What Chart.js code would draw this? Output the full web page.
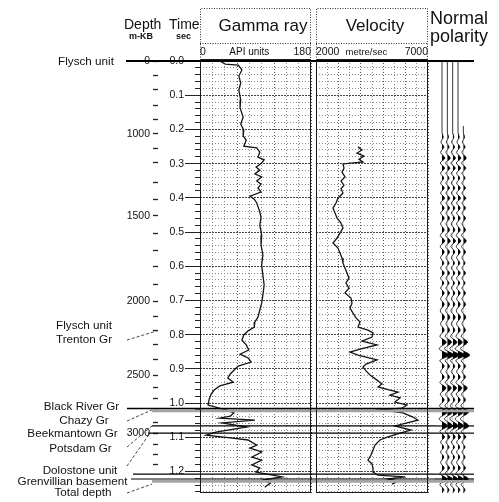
<!DOCTYPE html>
<html><head><meta charset="utf-8">
<script src="https://cdn.jsdelivr.net/npm/chart.js@4.4.1/dist/chart.umd.min.js"></script>
<style>
html,body{margin:0;padding:0;background:#fff;overflow:hidden}
#wrap{position:relative;width:499px;height:502px;overflow:hidden;font-family:"Liberation Sans",Arial,Helvetica,sans-serif;color:#111}
#wrap canvas{position:absolute;top:0}
.t{position:absolute;white-space:nowrap;line-height:1}
</style></head>
<body><div id="wrap">
<canvas id="cg" width="312" height="502" style="left:0px"></canvas>
<canvas id="cv" width="124" height="502" style="left:311px"></canvas>
<canvas id="cs" width="502" height="64" style="left:499px;transform-origin:0 0;transform:rotate(90deg)"></canvas>
</div>
<script>
// ---------------- data ----------------
const timeTickValues = [0, 0.1, 0.2, 0.3, 0.4, 0.5, 0.6, 0.7, 0.8, 0.9, 1.0, 1.1, 1.2];
const timeTickLabels = ['0.0','0.1','0.2','0.3','0.4','0.5','0.6','0.7','0.8','0.9','1.0','1.1','1.2'];

const depthValues = [0,200,400,600,800,1000,1100,1200,1300,1400,1500,1600,1700,1800,1900,2000,2100,2200,2300,2400,2500,2600,2700,2800,2900,3000,3100,3200,3300];
const depthTimes  = [0.000,0.041,0.082,0.129,0.170,0.213,0.257,0.298,0.354,0.406,0.453,0.503,0.553,0.602,0.652,0.702,0.746,0.789,0.830,0.874,0.918,0.956,0.988,1.023,1.056,1.088,1.120,1.149,1.181];
const depthLabelled = [0, 1000, 1500, 2000, 2500, 3000];

const gammaAxisTicks  = [0, 80, 180];
const gammaAxisLabels = ['0', 'API units', '180'];
const velAxisTicks  = [2000, 4250, 7000];
const velAxisLabels = ['2000', 'metre/sec', '7000'];

// gamma ray log: [time s, API]
const gammaRay = [[0.000,32],[0.009,41],[0.012,62],[0.026,68],[0.044,63],[0.064,66],[0.085,63],[0.114,66],[0.137,65],[0.164,70],[0.184,66],[0.202,71],[0.219,70],[0.231,75],[0.249,71],[0.254,92],[0.266,97],[0.281,94],[0.289,104],[0.298,100],[0.310,91],[0.319,97],[0.330,89],[0.339,100],[0.351,92],[0.360,99],[0.371,94],[0.383,99],[0.395,81],[0.404,88],[0.415,92],[0.436,96],[0.456,99],[0.480,97],[0.509,100],[0.538,99],[0.567,102],[0.596,100],[0.626,102],[0.655,104],[0.684,102],[0.708,100],[0.728,97],[0.749,94],[0.763,89],[0.778,88],[0.789,78],[0.801,71],[0.816,68],[0.830,75],[0.845,79],[0.857,65],[0.868,78],[0.880,83],[0.892,62],[0.904,55],[0.915,49],[0.927,45],[0.939,54],[0.950,32],[0.962,23],[0.974,18],[0.988,15],[1.006,13],[1.020,42],[1.029,55],[1.038,49],[1.044,32],[1.050,89],[1.058,36],[1.070,76],[1.085,26],[1.094,10],[1.102,49],[1.108,78],[1.123,92],[1.132,81],[1.143,100],[1.158,84],[1.167,100],[1.181,84],[1.190,97],[1.202,91],[1.211,118],[1.216,133],[1.225,102],[1.234,114],[1.246,105]];

// velocity log: [time s, m/s]
const velocity = [[0.251,3875],[0.260,4053],[0.269,3830],[0.278,4143],[0.287,3920],[0.295,4098],[0.301,3205],[0.313,3250],[0.325,3161],[0.339,3295],[0.351,3116],[0.363,3250],[0.374,3116],[0.386,3205],[0.401,2982],[0.415,2893],[0.430,2759],[0.444,2848],[0.459,2937],[0.474,3116],[0.488,3205],[0.503,3071],[0.518,2937],[0.532,2759],[0.547,2982],[0.561,3071],[0.576,3161],[0.591,3205],[0.605,3295],[0.620,3384],[0.635,3473],[0.649,3339],[0.664,3473],[0.678,3295],[0.693,3562],[0.708,3607],[0.722,3518],[0.737,3652],[0.751,3786],[0.763,3964],[0.778,3875],[0.787,4321],[0.795,4545],[0.807,4500],[0.819,4053],[0.830,4723],[0.842,3964],[0.851,3518],[0.860,3875],[0.865,4187],[0.874,4723],[0.886,4232],[0.895,4098],[0.906,4232],[0.918,4411],[0.933,4723],[0.944,4946],[0.953,4768],[0.962,5304],[0.968,5661],[0.977,5304],[0.985,5750],[0.997,5527],[1.006,6062],[1.015,5839],[1.020,4857],[1.029,5884],[1.041,6330],[1.050,6553],[1.058,6062],[1.067,5527],[1.079,6241],[1.088,5750],[1.099,5214],[1.108,4857],[1.123,4634],[1.137,4545],[1.152,4455],[1.167,4321],[1.178,4500],[1.190,4545],[1.202,4545],[1.211,4768],[1.216,5973],[1.222,5214],[1.228,5661],[1.237,5393]];

// synthetic seismogram (peaks and troughs): [time s, relative amplitude]
const synthetic = [[0,0],[0.19,0],[0.21,0],[0.222,0.35],[0.237,-0.3],[0.251,0.5],[0.267,-0.4],[0.284,0.8],[0.298,-0.5],[0.313,0.7],[0.328,-0.4],[0.342,0.5],[0.357,-0.4],[0.371,0.6],[0.386,-0.4],[0.401,0.7],[0.415,-0.4],[0.430,0.6],[0.445,-0.4],[0.459,0.6],[0.476,-0.4],[0.494,0.6],[0.510,-0.5],[0.526,0.8],[0.542,-0.5],[0.558,0.6],[0.575,-0.4],[0.591,0.5],[0.605,-0.4],[0.620,0.6],[0.635,-0.4],[0.649,0.5],[0.664,-0.4],[0.678,0.6],[0.695,-0.4],[0.711,0.6],[0.730,-0.5],[0.749,0.7],[0.768,-0.4],[0.787,0.6],[0.805,-0.6],[0.822,1.2],[0.841,-0.8],[0.860,1.8],[0.876,-0.6],[0.892,0.6],[0.908,-0.4],[0.924,0.6],[0.940,-0.6],[0.956,1.1],[0.974,-0.5],[0.991,0.6],[1.008,-0.7],[1.026,1.5],[1.046,-0.8],[1.067,1.5],[1.083,-0.6],[1.099,0.7],[1.114,-0.4],[1.129,0.5],[1.143,-0.4],[1.158,0.5],[1.174,-0.4],[1.190,0.6],[1.206,-0.6],[1.222,1.4],[1.238,-0.6],[1.254,0.5],[1.263,0]];
const traceOffsets = [1.5, 3, 4.5, 6, 7.5];
const traceStartTimes = [0, 0, 0, 0, 0.19];

// formation tops
const formationTopTimes = [0.000, 1.016, 1.067, 1.088, 1.208, 1.222];
const bandTimes = [[1.019, 1.027], [1.225, 1.233]];
const leaderTimes = [0.789, 1.020, 1.067, 1.088, 1.237];

// ---------------- layout / style ----------------
const FONT = '"Liberation Sans", Arial, Helvetica, sans-serif';
Chart.defaults.font.family = FONT;
Chart.defaults.color = '#111';
const T_MIN = -0.003, T_MAX = 1.263;
const SCREEN_W = 499;
const LINE_END = 474, BAND_START = 152;
const formationLineStart = [126, 127, 152, 148, 133, 131];
const formationLineWidth = [2, 1.5, 1.2, 1.2, 1.2, 1.2];
const leaderLayout = [[127,340,157],[127,421,152],[127,447,152],[127,466,150],[127,493,152]];

const minorTimeTicks = [];
for (let k = 0; k <= 63; k++) minorTimeTicks.push(Math.round(k * 2) / 100);
const isMajorT = v => Math.abs(v * 10 - Math.round(v * 10)) < 1e-6;
const hGridColor = c => (c.tick && isMajorT(c.tick.value)) ? '#444' : '#8a8a8a';
const hGridDash = c => (c.tick && isMajorT(c.tick.value)) ? [2, 1] : [1, 2];
const noPad = s => { s.paddingLeft = 0; s.paddingRight = 0; s.paddingTop = 0; s.paddingBottom = 0; };

function timeGridAxis(width) {
  return {
    type: 'linear', position: 'left', min: T_MIN, max: T_MAX, reverse: true, weight: 0,
    afterBuildTicks: s => { s.ticks = minorTimeTicks.map(v => ({value: v})); },
    afterFit: s => { s.width = width; noPad(s); },
    ticks: {display: false, autoSkip: false},
    grid: {drawOnChartArea: true, drawTicks: width > 0, tickLength: 5, tickColor: '#222', tickWidth: 1, color: hGridColor, lineWidth: 1},
    border: {display: false, dash: hGridDash}
  };
}
function topAxis(min, max, step, tickVals, tickLabels, majorEvery, labelFont) {
  return {
    type: 'linear', position: 'top', min: min, max: max,
    afterBuildTicks: s => {
      const vals = [];
      for (let v = min; v <= max + 1e-9; v += step) vals.push(v);
      tickVals.forEach(v => { if (!vals.includes(v)) vals.push(v); });
      vals.sort((a, b) => a - b);
      s.ticks = vals.map(v => ({value: v}));
    },
    afterFit: s => { s.height = 60; noPad(s); },
    ticks: {autoSkip: false, maxRotation: 0, align: 'inner', padding: 2, color: '#111',
      font: c => ({size: (c.tick && c.tick.value === tickVals[1]) ? labelFont : 10.5}),
      callback: v => { const i = tickVals.indexOf(v); return i >= 0 ? tickLabels[i] : ''; }},
    grid: {drawTicks: false, lineWidth: 1, color: c => {
      const v = c.tick && c.tick.value;
      if (v === undefined || (v - min) % step !== 0) return 'rgba(0,0,0,0)';
      return v % majorEvery === 0 ? '#555' : '#8a8a8a';
    }},
    border: {display: false, dash: [1, 2]}
  };
}

function drawTops(ctx, pix) {
  ctx.fillStyle = '#a3a3a3';
  bandTimes.forEach(([t0, t1]) => {
    const y0 = pix(t0), y1 = pix(t1);
    ctx.fillRect(BAND_START, y0, LINE_END - BAND_START, y1 - y0);
  });
  ctx.strokeStyle = '#000';
  formationTopTimes.forEach((t, i) => {
    ctx.lineWidth = formationLineWidth[i];
    const y = pix(t);
    ctx.beginPath(); ctx.moveTo(formationLineStart[i], y); ctx.lineTo(LINE_END, y); ctx.stroke();
  });
}
function topsPlugin(mode) {
  return {
    id: 'tops_' + mode,
    afterDatasetsDraw(chart) {
      const ctx = chart.ctx;
      ctx.save();
      let pix;
      if (mode === 'seis') {
        ctx.transform(0, -1, 1, 0, 0, SCREEN_W);
        pix = t => chart.scales.x.getPixelForValue(t);
      } else {
        ctx.translate(-chart.canvas.offsetLeft, 0);
        pix = t => chart.scales.y.getPixelForValue(t);
      }
      drawTops(ctx, pix);
      if (mode === 'gamma') {
        ctx.strokeStyle = '#333'; ctx.lineWidth = 0.9; ctx.setLineDash([3, 2]);
        leaderTimes.forEach((t, i) => {
          const [x1, y1, x2] = leaderLayout[i];
          ctx.beginPath(); ctx.moveTo(x1, y1); ctx.lineTo(x2, pix(t)); ctx.stroke();
        });
      }
      ctx.restore();
    }
  };
}
const framePlugin = {
  id: 'frame',
  afterDraw(chart) {
    const ctx = chart.ctx, a = chart.chartArea;
    ctx.save();
    ctx.strokeStyle = '#1a1a1a'; ctx.lineWidth = 1;
    ctx.strokeRect(a.left + 0.5, a.top - 0.5, a.right - a.left - 1, a.bottom - a.top);
    ctx.setLineDash([1, 1.5]); ctx.strokeStyle = '#333';
    ctx.beginPath();
    ctx.moveTo(a.left + 0.5, a.top); ctx.lineTo(a.left + 0.5, 8.5); ctx.lineTo(a.right - 0.5, 8.5); ctx.lineTo(a.right - 0.5, a.top);
    ctx.moveTo(a.left, 43.5); ctx.lineTo(a.right, 43.5);
    ctx.stroke();
    ctx.restore();
  }
};

const baseOpts = {responsive: false, animation: false, events: [], plugins: {legend: {display: false}, tooltip: {enabled: false}}};

// ---------------- gamma ray panel + depth/time axes ----------------
new Chart(document.getElementById('cg'), {
  type: 'line',
  data: {datasets: [{
    data: gammaRay.map(p => ({x: p[1], y: p[0]})), xAxisID: 'xg', yAxisID: 'y',
    borderColor: '#151515', borderWidth: 1.3, pointRadius: 0, tension: 0, fill: false
  }]},
  options: Object.assign({}, baseOpts, {
    layout: {padding: {left: 0, right: 1, top: 0, bottom: 9}},
    scales: {
      xg: topAxis(0, 180, 20, gammaAxisTicks, gammaAxisLabels, 60, 10),
      yd: {
        type: 'linear', position: 'left', min: T_MIN, max: T_MAX, reverse: true, weight: 2,
        afterBuildTicks: s => { s.ticks = depthTimes.map(v => ({value: v})); },
        afterFit: s => { s.width = 158; noPad(s); },
        ticks: {autoSkip: false, padding: 3, color: '#111', font: {size: 10.5},
          callback: (v, i) => depthLabelled.includes(depthValues[i]) ? String(depthValues[i]) : ''},
        grid: {drawOnChartArea: false, tickLength: 5, tickColor: '#222', tickWidth: 1.3},
        border: {display: false}
      },
      yt: {
        type: 'linear', position: 'left', min: T_MIN, max: T_MAX, reverse: true, weight: 1,
        afterBuildTicks: s => { s.ticks = timeTickValues.map(v => ({value: v})); },
        afterFit: s => { s.width = 37; noPad(s); },
        ticks: {autoSkip: false, padding: 1, color: '#111', font: {size: 10.5},
          callback: (v, i) => timeTickLabels[i]},
        grid: {drawOnChartArea: false, tickLength: 10, tickColor: '#222', tickWidth: 1},
        border: {display: false}
      },
      y: timeGridAxis(5)
    }
  }),
  plugins: [topsPlugin('gamma'), framePlugin]
});

// ---------------- velocity panel ----------------
new Chart(document.getElementById('cv'), {
  type: 'line',
  data: {datasets: [{
    data: velocity.map(p => ({x: p[1], y: p[0]})), xAxisID: 'xv', yAxisID: 'y',
    borderColor: '#151515', borderWidth: 1.3, pointRadius: 0, tension: 0, fill: false
  }]},
  options: Object.assign({}, baseOpts, {
    layout: {padding: {left: 5, right: 7, top: 0, bottom: 9}},
    scales: {
      xv: topAxis(2000, 7000, 500, velAxisTicks, velAxisLabels, 1000, 9.5),
      y: timeGridAxis(0)
    }
  }),
  plugins: [topsPlugin('vel'), framePlugin]
});

// ---------------- synthetic seismogram (canvas rotated 90deg) ----------------
new Chart(document.getElementById('cs'), {
  type: 'line',
  data: {datasets: traceOffsets.map((off, k) => ({
    data: synthetic.filter(p => p[0] >= traceStartTimes[k]).map(p => ({x: p[0], y: off + p[1]})),
    borderColor: '#000', borderWidth: 0.8, pointRadius: 0, cubicInterpolationMode: 'monotone',
    fill: {value: off, above: '#000', below: 'rgba(0,0,0,0)'}
  }))},
  options: Object.assign({}, baseOpts, {
    layout: {padding: {left: 60, right: 9, top: 0, bottom: 0}},
    scales: {
      x: {type: 'linear', display: false, min: T_MIN, max: T_MAX},
      y: {type: 'linear', display: false, min: -0.47, max: 17.53}
    }
  }),
  plugins: [topsPlugin('seis')]
});

// ---------------- text labels ----------------
const wrap = document.getElementById('wrap');
function addText(s, x, baseline, size, center, weight) {
  const d = document.createElement('div');
  d.className = 't'; d.textContent = s;
  d.style.fontSize = size + 'px';
  d.style.top = (baseline - 0.8465 * size) + 'px';
  d.style.left = x + 'px';
  if (center) d.style.transform = 'translateX(-50%)';
  if (weight) d.style.fontWeight = weight;
  wrap.appendChild(d);
}
[
  ['Depth', 124, 28.5, 14, false], ['m-KB', 129, 40, 9, false, 'bold'],
  ['Time', 169, 28.5, 14, false], ['sec', 176, 40, 9, false, 'bold'],
  ['Gamma ray', 263, 31, 17, true], ['Velocity', 375, 31, 17, true],
  ['Normal', 430, 24, 18, false], ['polarity', 430, 42, 18, false]
].forEach(a => addText(...a));
[
  ['Flysch unit', 86, 65], ['Flysch unit', 84, 329], ['Trenton Gr', 84, 342.7],
  ['Black River Gr', 81.5, 410], ['Chazy Gr', 84, 423.5], ['Beekmantown Gr', 72.5, 437.3],
  ['Potsdam Gr', 80.5, 452.3], ['Dolostone unit', 80, 474], ['Grenvillian basement', 72.5, 485],
  ['Total depth', 83, 495.5]
].forEach(a => addText(a[0], a[1], a[2], 11.7, true));
</script></body></html>
